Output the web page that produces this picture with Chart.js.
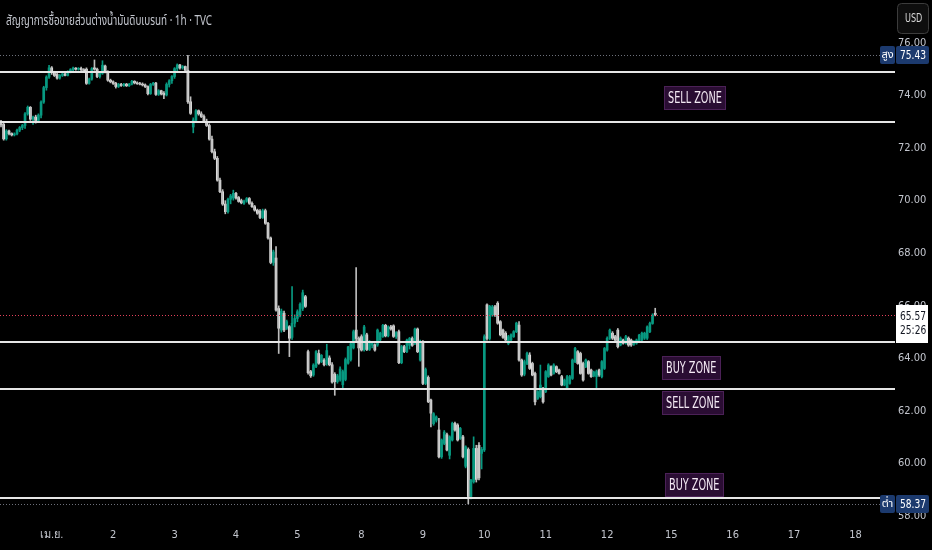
<!DOCTYPE html>
<html>
<head>
<meta charset="utf-8">
<script src="https://cdn.jsdelivr.net/npm/chart.js@4.4.1/dist/chart.umd.min.js"></script>
<style>
  html, body { margin: 0; padding: 0; background: #000; }
  #wrap { width: 932px; height: 550px; position: relative; }
</style>
</head>
<body>
<div id="wrap"><canvas id="chart"></canvas></div>
<script>
// 1h candles, index = bar number from the first visible bar
const opens = [
  72.90,72.80,72.25,72.55,72.45,72.40,72.44,72.58,72.68,72.76,
  73.20,73.45,73.00,73.08,72.95,73.15,73.65,74.20,74.60,74.95,
  74.78,74.70,74.56,74.66,74.72,74.66,74.80,74.88,74.94,74.90,
  74.93,74.88,74.90,74.36,74.52,74.95,74.90,74.62,74.74,75.02,
  74.80,74.48,74.42,74.36,74.24,74.32,74.28,74.33,74.27,74.33,
  74.44,74.38,74.35,74.33,74.30,74.24,73.97,74.32,74.37,73.94,
  74.08,73.98,73.92,74.32,74.46,74.62,74.92,75.06,74.95,75.00,
  74.86,73.66,72.70,72.95,73.32,73.20,73.10,72.92,72.76,72.24,
  71.76,71.51,70.68,70.24,69.77,69.48,69.95,70.00,70.18,70.02,
  69.90,69.80,69.88,69.98,69.80,69.67,69.54,69.50,69.26,69.52,
  69.04,68.48,67.55,67.72,65.80,64.98,65.62,65.05,65.11,64.70,
  65.24,65.42,65.55,65.80,66.25,64.16,63.40,63.27,63.60,64.09,
  63.78,63.84,63.71,63.92,63.66,63.30,63.02,63.10,62.90,63.10,
  63.72,63.86,64.30,64.98,64.66,64.73,64.22,64.80,64.24,64.40,
  64.42,64.41,64.60,64.73,65.16,64.76,65.10,65.14,64.74,64.92,
  63.74,64.35,64.16,64.40,64.66,64.47,65.02,63.84,64.54,62.95,
  63.18,62.32,61.42,61.55,61.18,60.16,60.67,61.00,60.22,60.80,
  61.43,61.37,60.86,60.92,59.80,60.44,58.65,59.21,60.48,60.60,
  60.29,60.42,65.94,64.66,65.55,65.87,66.00,65.30,64.98,64.86,
  64.47,64.60,64.73,64.92,65.17,63.84,63.30,63.71,64.03,63.71,
  63.33,62.38,62.45,62.76,62.64,63.21,63.59,63.33,63.59,63.46,
  63.21,62.89,62.76,62.95,63.14,63.78,64.16,64.09,63.71,63.59,
  63.78,63.46,63.24,63.21,63.46,63.21,63.52,64.22,64.67,64.86,
  64.73,64.98,64.41,64.60,64.48,64.67,64.60,64.44,64.48,64.54,
  64.60,64.67,64.67,64.92,65.23,65.62
];
const highs = [
  72.95,72.85,72.60,72.58,72.48,72.48,72.62,72.72,72.80,73.25,
  73.50,73.48,73.12,73.15,73.20,73.70,74.25,74.65,75.05,75.00,
  74.82,74.74,74.70,74.74,74.74,74.84,74.92,74.98,74.96,74.96,
  74.98,74.92,74.95,74.56,74.96,75.25,74.94,74.80,75.22,75.06,
  74.84,74.52,74.46,74.40,74.36,74.36,74.36,74.36,74.36,74.48,
  74.46,74.42,74.40,74.38,74.34,74.27,74.36,74.40,74.40,74.12,
  74.10,74.05,74.38,74.50,74.66,74.96,75.10,75.08,75.04,75.02,
  75.43,73.85,73.05,73.36,73.35,73.28,73.16,73.00,72.82,72.36,
  71.86,71.58,70.76,70.32,69.90,70.00,70.14,70.30,70.22,70.06,
  69.96,69.92,70.02,70.02,69.86,69.72,69.58,69.56,69.58,69.58,
  69.08,68.52,68.02,68.15,65.90,65.78,65.70,65.36,65.15,66.63,
  65.56,65.75,66.02,66.50,66.30,64.22,63.45,63.70,64.20,64.22,
  64.05,63.90,64.44,64.00,63.74,63.36,63.30,63.58,63.46,63.92,
  64.36,64.50,64.98,67.36,64.72,64.80,65.16,64.86,64.58,64.52,
  64.46,65.02,64.90,65.20,65.20,65.14,65.16,65.18,64.92,64.98,
  64.40,64.40,64.64,64.70,64.72,65.06,65.06,64.60,64.58,63.54,
  63.24,62.36,61.84,61.72,61.62,60.84,61.16,61.06,60.96,61.48,
  61.48,61.42,61.28,60.98,60.58,60.50,59.30,60.92,60.60,60.70,
  60.52,64.80,65.98,65.92,65.92,65.92,66.06,65.34,65.02,64.92,
  64.78,64.84,64.96,65.28,65.30,63.88,63.84,64.14,64.12,63.76,
  63.38,62.68,63.65,62.80,63.44,63.70,63.62,63.70,63.62,63.50,
  63.26,63.12,63.26,63.26,63.88,64.32,64.20,64.14,63.76,63.88,
  63.82,63.50,63.42,63.46,63.50,63.82,64.32,64.72,65.02,64.92,
  64.78,65.04,64.72,64.64,64.78,64.72,64.64,64.58,64.64,64.82,
  64.90,64.90,65.14,65.28,65.60,65.81
];
const lows = [
  72.70,72.20,72.20,72.40,72.36,72.36,72.40,72.52,72.60,72.65,
  73.15,72.95,72.80,72.85,72.90,73.05,73.60,74.10,74.55,74.70,
  74.62,74.52,74.52,74.62,74.64,74.64,74.76,74.84,74.86,74.86,
  74.84,74.80,74.32,74.33,74.48,74.86,74.58,74.56,74.70,74.76,
  74.44,74.38,74.32,74.18,74.20,74.24,74.24,74.24,74.24,74.30,
  74.34,74.32,74.30,74.26,74.20,73.92,73.94,74.28,73.90,73.90,
  73.92,73.78,73.88,74.22,74.36,74.55,74.80,74.90,74.90,74.80,
  73.60,73.18,72.48,72.90,73.15,73.06,72.88,72.72,72.20,71.72,
  71.46,70.64,70.20,69.72,69.40,69.42,69.78,69.92,69.96,69.84,
  69.78,69.76,69.84,69.76,69.64,69.50,69.38,69.22,69.22,69.00,
  68.44,67.50,67.44,65.70,64.09,64.90,64.92,65.00,63.97,64.62,
  65.10,65.30,65.48,65.72,65.84,63.30,63.18,63.22,63.55,63.68,
  63.74,63.62,63.64,63.62,62.96,62.50,62.96,63.04,62.72,63.05,
  63.68,63.80,64.26,64.58,63.60,64.18,64.18,64.20,64.20,64.30,
  64.18,64.36,64.56,64.70,64.72,64.72,64.98,64.70,64.66,63.70,
  63.70,64.12,64.12,64.26,64.36,64.42,64.12,63.80,62.90,62.90,
  62.22,61.30,61.36,61.48,60.12,60.10,60.62,60.38,60.08,60.76,
  61.14,60.76,60.82,60.12,59.74,58.37,58.56,59.16,59.20,59.28,
  59.70,60.36,64.60,64.60,65.50,65.50,65.20,64.76,64.66,64.56,
  64.42,64.56,64.70,64.88,63.80,63.22,63.24,63.66,63.48,63.24,
  62.13,62.34,62.40,62.20,62.60,63.18,63.24,63.30,63.36,63.30,
  62.86,62.86,62.72,62.92,63.10,63.74,63.68,63.30,63.04,63.55,
  63.30,63.18,63.20,62.76,63.22,63.16,63.48,64.18,64.62,64.62,
  64.56,64.30,64.38,64.44,64.44,64.36,64.36,64.40,64.44,64.50,
  64.56,64.62,64.62,64.88,65.20,65.52
];
const closes = [
  72.78,72.25,72.55,72.45,72.40,72.44,72.58,72.68,72.76,73.20,
  73.45,73.00,73.08,72.95,73.15,73.65,74.20,74.60,74.95,74.78,
  74.66,74.56,74.66,74.72,74.66,74.80,74.88,74.94,74.90,74.93,
  74.88,74.84,74.36,74.52,74.92,74.90,74.62,74.74,75.05,74.80,
  74.48,74.42,74.36,74.24,74.32,74.28,74.33,74.27,74.33,74.44,
  74.38,74.35,74.33,74.30,74.24,73.97,74.32,74.37,73.94,74.08,
  73.96,73.92,74.32,74.46,74.62,74.92,75.06,74.95,75.00,74.86,
  73.66,73.22,72.97,73.32,73.20,73.10,72.92,72.76,72.24,71.76,
  71.51,70.68,70.24,69.77,69.48,69.95,70.08,70.18,70.00,69.87,
  69.82,69.88,69.98,69.80,69.67,69.54,69.42,69.26,69.52,69.04,
  68.48,67.55,67.95,65.74,65.05,65.70,64.98,65.30,64.67,65.24,
  65.42,65.68,65.96,66.40,65.88,63.36,63.24,63.65,64.16,63.72,
  64.02,63.66,64.20,63.66,63.00,63.02,63.24,63.50,63.40,63.86,
  64.34,64.46,64.92,64.66,64.30,64.22,65.10,64.24,64.54,64.48,
  64.22,64.98,64.86,65.16,64.76,65.10,65.02,64.74,64.88,63.74,
  64.35,64.16,64.60,64.66,64.40,65.02,64.16,64.54,62.95,63.48,
  62.26,61.82,61.80,61.68,60.16,60.80,61.10,60.42,60.92,61.43,
  61.18,60.80,61.24,60.16,60.54,58.65,59.27,60.48,59.30,59.36,
  60.44,64.73,64.66,65.88,65.86,65.55,65.24,64.80,64.70,64.60,
  64.73,64.80,64.92,65.24,63.84,63.27,63.78,64.09,63.52,63.27,
  62.25,62.64,62.89,62.25,63.40,63.65,63.27,63.65,63.40,63.33,
  62.89,63.08,63.21,63.21,63.84,64.28,63.71,63.33,63.08,63.84,
  63.33,63.21,63.38,63.40,63.27,63.78,64.28,64.67,64.98,64.67,
  64.60,64.35,64.67,64.48,64.73,64.41,64.41,64.54,64.60,64.79,
  64.86,64.86,65.10,65.23,65.55,65.57
];

// time axis: first bar of each session, and its label
const dayTicks = [19, 42, 65, 88, 111, 135, 158, 181, 204, 227, 251, 274, 297, 320];
const dayLabels = ["เม.ย.", "2", "3", "4", "5", "8", "9", "10", "11", "12", "15", "16", "17", "18"];
const priceTicks = [58, 60, 62, 64, 66, 68, 70, 72, 74, 76];

// drawn levels and their tags
const zoneLevels = [74.80, 72.90, 64.54, 62.74, 58.58];
const zoneNames = ["SELL ZONE", "BUY ZONE", "SELL ZONE", "BUY ZONE"];
const zoneTagBar = [248.3, 247.6, 247.6, 248.7];
const zoneTagPrice = [73.80, 63.52, 62.19, 59.07];

const highPrice = 75.43;
const lowPrice = 58.37;
const lastPrice = 65.57;
const countdown = "25:26";
const title = "สัญญาการซื้อขายส่วนต่างน้ำมันดิบเบรนท์ · 1h · TVC";

const UP = "#089981";
const DOWN = "#ffffff";
const DOWN_WICK = "#bdbdbd";
const TEXT = "#c3c6ce";
const NARROW = "'DejaVu Sans Condensed', 'DejaVu Sans', sans-serif";
const UI = "'Noto Sans Thai', 'Noto Sans', 'DejaVu Sans', sans-serif";

const isUp = closes.map((c, i) => c >= opens[i]);
const wicks = highs.map((h, i) => ({ x: i, y: [lows[i], h] }));
const bodies = opens.map((o, i) => ({ x: i, y: [Math.min(o, closes[i]), Math.max(o, closes[i])] }));

function roundRect(ctx, x, y, w, h, r) {
  ctx.beginPath();
  ctx.moveTo(x + r, y);
  ctx.arcTo(x + w, y, x + w, y + h, r);
  ctx.arcTo(x + w, y + h, x, y + h, r);
  ctx.arcTo(x, y + h, x, y, r);
  ctx.arcTo(x, y, x + w, y, r);
  ctx.closePath();
}

// text squeezed sideways, the tv labels use a narrow face
function narrowText(ctx, text, x, y, sx) {
  ctx.save();
  ctx.translate(x, y);
  ctx.scale(sx, 1);
  ctx.fillText(text, 0, 0);
  ctx.restore();
}

const overlay = {
  id: "overlay",
  beforeDraw(chart) {
    const ctx = chart.ctx;
    ctx.save();
    ctx.fillStyle = "#000";
    ctx.fillRect(0, 0, chart.width, chart.height);
    ctx.restore();
  },
  afterDatasetsDraw(chart) {
    const { ctx, chartArea: a, scales: { x, y } } = chart;
    ctx.save();

    // high / low / last price dotted lines
    const dotted = (p, color) => {
      const py = Math.round(y.getPixelForValue(p)) + 0.5;
      ctx.strokeStyle = color;
      ctx.lineWidth = 1;
      ctx.setLineDash([1, 2]);
      ctx.beginPath();
      ctx.moveTo(a.left, py);
      ctx.lineTo(a.right, py);
      ctx.stroke();
    };
    dotted(highPrice, "#6d707a");
    dotted(lowPrice, "#6d707a");
    dotted(lastPrice, "#e2405a");
    ctx.setLineDash([]);

    // zone lines
    ctx.strokeStyle = "#e6e6e6";
    ctx.lineWidth = 2;
    zoneLevels.forEach(p => {
      const py = Math.round(y.getPixelForValue(p));
      ctx.beginPath();
      ctx.moveTo(a.left, py);
      ctx.lineTo(a.right, py);
      ctx.stroke();
    });

    // zone tags
    ctx.font = "15px " + NARROW;
    ctx.textBaseline = "middle";
    ctx.textAlign = "left";
    zoneNames.forEach((name, k) => {
      const px = Math.round(x.getPixelForValue(zoneTagBar[k]));
      const py = Math.round(y.getPixelForValue(zoneTagPrice[k]));
      const w = Math.round(ctx.measureText(name).width * 0.72) + 8;
      ctx.fillStyle = "#2a0d33";
      ctx.fillRect(px, py - 12, w, 24);
      ctx.strokeStyle = "#4b2157";
      ctx.lineWidth = 1;
      ctx.strokeRect(px + 0.5, py - 11.5, w - 1, 23);
      ctx.fillStyle = "#f4eaf4";
      narrowText(ctx, name, px + 4, py + 1, 0.72);
    });
    ctx.restore();
  },
  afterDraw(chart) {
    const { ctx, scales: { y } } = chart;
    ctx.save();

    // title
    ctx.font = "14px " + UI;
    ctx.fillStyle = TEXT;
    ctx.textBaseline = "middle";
    ctx.textAlign = "left";
    narrowText(ctx, title, 6, 22, 206 / ctx.measureText(title).width);

    // currency button
    roundRect(ctx, 897.5, 3.5, 31, 30, 4);
    ctx.fillStyle = "#0e0e0e";
    ctx.fill();
    ctx.strokeStyle = "#3c3c3c";
    ctx.lineWidth = 1;
    ctx.stroke();
    ctx.font = "12px " + NARROW;
    ctx.fillStyle = "#d8d8d8";
    ctx.textAlign = "left";
    narrowText(ctx, "USD", 905, 19, 0.75);

    // high / low badges
    const badge = (p, tag) => {
      const py = Math.round(y.getPixelForValue(p));
      ctx.fillStyle = "#1c3a6e";
      roundRect(ctx, 880, py - 9, 15, 18, 2);
      ctx.fill();
      roundRect(ctx, 896, py - 9, 33, 18, 2);
      ctx.fill();
      ctx.fillStyle = "#ffffff";
      ctx.textAlign = "center";
      ctx.font = "11px " + UI;
      ctx.fillText(tag, 887.5, py + 1);
      ctx.textAlign = "left";
      ctx.font = "13px " + NARROW;
      narrowText(ctx, p.toFixed(2), 900, py + 1, 0.78);
    };
    badge(highPrice, "สูง");
    badge(lowPrice, "ต่ำ");

    // last price box with countdown
    const ly = Math.round(y.getPixelForValue(lastPrice));
    ctx.fillStyle = "#ffffff";
    ctx.fillRect(896, ly - 10, 32, 38);
    ctx.fillStyle = "#131722";
    ctx.font = "13px " + NARROW;
    ctx.textAlign = "left";
    narrowText(ctx, lastPrice.toFixed(2), 900, ly + 2, 0.78);
    narrowText(ctx, countdown, 900, ly + 16, 0.78);
    ctx.restore();
  }
};

new Chart(document.getElementById("chart"), {
  type: "bar",
  data: {
    datasets: [
      { data: wicks, backgroundColor: isUp.map(u => u ? UP : DOWN_WICK), barThickness: 1, grouped: false },
      { data: bodies, backgroundColor: isUp.map(u => u ? UP : DOWN), barThickness: 2, grouped: false }
    ]
  },
  options: {
    responsive: true,
    maintainAspectRatio: false,
    animation: false,
    layout: { padding: 0 },
    plugins: { legend: { display: false }, tooltip: { enabled: false } },
    scales: {
      x: {
        type: "linear",
        min: -0.375,
        max: 334.8,
        offset: false,
        grid: { display: false, drawTicks: false },
        border: { display: false },
        afterBuildTicks: s => { s.ticks = dayTicks.map(v => ({ value: v })); },
        afterFit: s => { s.height = 29; s.paddingLeft = 0; s.paddingRight = 0; },
        ticks: {
          autoSkip: false,
          maxRotation: 0,
          padding: 8,
          color: TEXT,
          font: { family: NARROW, size: 11 },
          callback: v => dayLabels[dayTicks.indexOf(v)]
        }
      },
      y: {
        position: "right",
        min: 57.72,
        max: 77.53,
        grid: { display: false, drawTicks: false },
        border: { display: false },
        afterBuildTicks: s => { s.ticks = priceTicks.map(v => ({ value: v })); },
        afterFit: s => { s.width = 37; s.paddingTop = 0; s.paddingBottom = 0; },
        ticks: {
          padding: 3,
          color: TEXT,
          // empty first line nudges the label a few px down, like the tv scale
          font: { family: NARROW, size: 11, lineHeight: "5px" },
          callback: v => ["", v.toFixed(2)]
        }
      }
    }
  },
  plugins: [overlay]
});
</script>
</body>
</html>
